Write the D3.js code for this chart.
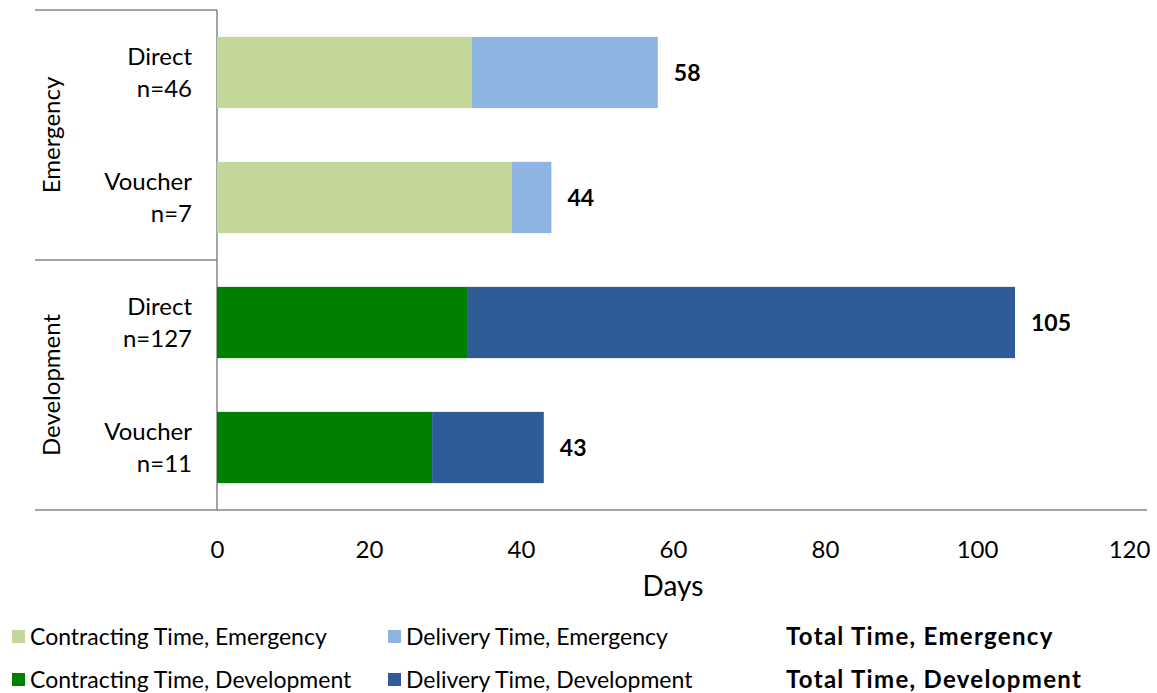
<!DOCTYPE html>
<html>
<meta charset="utf-8">
<head>
	<title>Days</title>
	<script src="https://d3js.org/d3.v7.min.js"></script>
</head>
<body style="margin:0;background:#fff">
<svg id="chart" width="1157" height="693"></svg>
<script>
	// data
	var rows = ["Direct|n=46", "Voucher|n=7", "Direct|n=127", "Voucher|n=11"];
	var groups = ["Emergency", "Emergency", "Development", "Development"];
	var contracting = [33.5, 38.8, 32.9, 28.3];
	var totals = [58, 44, 105, 43];
	var xTicks = [0, 20, 40, 60, 80, 100, 120];
	var legendNames = ["Contracting Time, Emergency", "Delivery Time, Emergency", "Total Time, Emergency",
		"Contracting Time, Development", "Delivery Time, Development", "Total Time, Development"];

	var colors = {
		Emergency: ["#c4d79b", "#8eb4e2"],
		Development: ["#008000", "#2f5b98"]
	};
	var font = "Lato, 'Open Sans', sans-serif";

	var svg = d3.select("#chart");
	var pLeft = 217, pRight = 1129, pTop = 10, pBottom = 510;

	var x = d3.scaleLinear().domain([0, 120]).range([pLeft, pRight]);
	var y = d3.scaleBand().domain(d3.range(rows.length)).range([pTop, pBottom]).paddingInner(0.43).paddingOuter(0.215);

	// frame lines
	svg.append("line").attr("x1", pLeft).attr("x2", pLeft).attr("y1", pTop).attr("y2", pBottom)
		.attr("stroke", "#868686").attr("stroke-width", 1.5);
	svg.append("line").attr("x1", 35).attr("x2", 1147).attr("y1", pBottom).attr("y2", pBottom)
		.attr("stroke", "#868686").attr("stroke-width", 1.5);
	[pTop, (pTop + pBottom) / 2].forEach(function (yy) {
		svg.append("line").attr("x1", 35).attr("x2", pLeft).attr("y1", yy).attr("y2", yy)
			.attr("stroke", "#868686").attr("stroke-width", 1.5);
	});

	// bars
	rows.forEach(function (r, i) {
		var c = colors[groups[i]];
		svg.append("rect").attr("x", x(0)).attr("y", y(i)).attr("height", y.bandwidth())
			.attr("width", x(contracting[i]) - x(0)).attr("fill", c[0]);
		svg.append("rect").attr("x", x(contracting[i])).attr("y", y(i)).attr("height", y.bandwidth())
			.attr("width", x(totals[i]) - x(contracting[i])).attr("fill", c[1]);
		svg.append("text").attr("x", x(totals[i]) + 16).attr("y", y(i) + y.bandwidth() / 2 + 8)
			.attr("font-family", font).attr("font-weight", "bold").attr("font-size", 23)
			.attr("fill", "#000").text(totals[i]);
		var parts = r.split("|");
		var t = svg.append("text").attr("text-anchor", "end").attr("font-family", font)
			.attr("font-size", 24).attr("fill", "#000");
		t.append("tspan").attr("x", 192).attr("y", y(i) + y.bandwidth() / 2 - 8).text(parts[0]);
		t.append("tspan").attr("x", 192).attr("y", y(i) + y.bandwidth() / 2 + 24).text(parts[1]);
	});

	// group labels
	["Emergency", "Development"].forEach(function (g, k) {
		var cy = pTop + (pBottom - pTop) / 4 * (2 * k + 1);
		svg.append("text").attr("transform", "translate(60," + cy + ") rotate(-90)")
			.attr("text-anchor", "middle").attr("font-family", font).attr("font-size", 24)
			.attr("fill", "#000").text(g);
	});

	// x axis
	var axis = svg.append("g").attr("transform", "translate(0," + pBottom + ")")
		.call(d3.axisBottom(x).tickValues(xTicks).tickSize(0).tickPadding(31));
	axis.select(".domain").remove();
	axis.selectAll("text").attr("font-family", font).attr("font-size", 24).attr("fill", "#000");
	svg.append("text").attr("x", 673).attr("y", 596).attr("text-anchor", "middle")
		.attr("font-family", font).attr("font-size", 28).attr("fill", "#000").text("Days");

	// legend
	var legendX = [12, 388, 786], legendY = [637, 680];
	var legendColors = [colors.Emergency[0], colors.Emergency[1], null,
		colors.Development[0], colors.Development[1], null];
	legendNames.forEach(function (name, i) {
		var lx = legendX[i % 3], ly = legendY[Math.floor(i / 3)];
		if (legendColors[i]) {
			svg.append("rect").attr("x", lx).attr("y", ly - 7).attr("width", 13).attr("height", 13)
				.attr("fill", legendColors[i]);
			lx += 18;
		}
		svg.append("text").attr("x", lx).attr("y", ly + 8).attr("font-family", font)
			.attr("font-size", legendColors[i] ? 23 : 24).attr("font-weight", legendColors[i] ? "normal" : "bold")
			.attr("letter-spacing", legendColors[i] ? 0 : 1.3)
			.attr("fill", "#000").text(name);
	});
</script>
</body>
</html>
